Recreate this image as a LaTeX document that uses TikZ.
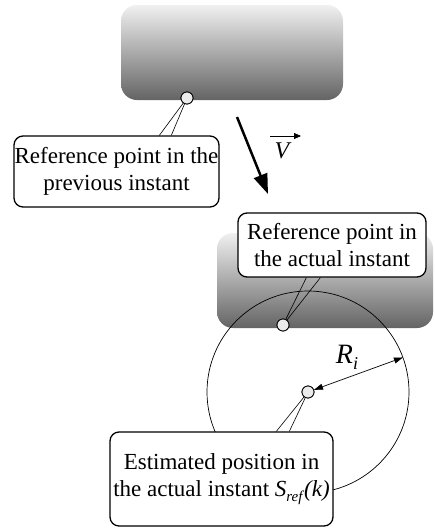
\documentclass[tikz,border=0pt]{standalone}
\usepackage{fontspec}
\setmainfont{Liberation Serif}
\usetikzlibrary{arrows.meta,calc}
\definecolor{shadetop}{RGB}{240,240,240}
\definecolor{shadebot}{RGB}{100,100,100}
\definecolor{ptfill}{RGB}{235,235,235}
\tikzset{
  car/.style={draw=none, rounded corners=16pt, top color=shadetop, bottom color=shadebot, inner sep=0pt},
  callout/.style={draw=black, line width=1.3pt, fill=white, rounded corners=9pt, inner sep=0pt, align=center, font=\fontsize{23}{27}\selectfont},
  refpt/.style={circle, draw=black, line width=0.8pt, fill=ptfill, minimum size=12pt, inner sep=0pt},
  pointer/.style={line width=0.6pt},
}
\begin{document}
\begin{tikzpicture}[x=1pt,y=-1pt]
\useasboundingbox (0,0) rectangle (435,528);
% gray blocks
\node[car, minimum width=222pt, minimum height=95pt] (car1) at (232,52.5) {};
\node[car, minimum width=216pt, minimum height=95pt] (car2) at (325,280.5) {};
% reference points (placed now, drawn again on top later)
\node[refpt] (p1) at (187,98) {};
\node[refpt] (p2) at (283,325) {};
\node[refpt] (p3) at (308,392) {};
% big circle
\draw[line width=0.7pt] (p3.center) circle[radius=101];
% callouts
\node[callout, minimum width=205pt, minimum height=71pt] (c1) at (116.5,171.5)
  {Reference point in the\\previous instant};
\node[callout, minimum width=188pt, minimum height=64pt] (c2) at (332,245)
  {Reference point in\\the actual instant};
\node[callout, minimum width=223pt, minimum height=94pt] (c3) at (221.5,479)
  {Estimated position in\\the actual instant \textit{S}\raisebox{-5pt}{\fontsize{15}{15}\selectfont\textit{ref}}\textit{(k)}};
% pointer coordinates
\coordinate (c1a) at ($(c1.north west)+(146,0)$);
\coordinate (c1b) at ($(c1.north west)+(158,0)$);
\coordinate (c2a) at ($(c2.south west)+(69,0)$);
\coordinate (c2b) at ($(c2.south west)+(83,0)$);
\coordinate (c3a) at ($(c3.north west)+(167,0)$);
\coordinate (c3b) at ($(c3.north west)+(180,0)$);
\draw[pointer] (c1a) -- (p1.center) -- (c1b);
\draw[pointer] (c2a) -- (p2.center) -- (c2b);
\draw[pointer] (c3a) -- (p3.center) -- (c3b);
% redraw points on top
\node[refpt] at (p1) {};
\node[refpt] at (p2) {};
\node[refpt] at (p3) {};
% velocity arrow
\coordinate (va) at (237,117);
\coordinate (vb) at (268,194);
\draw[line width=2.5pt, -{Triangle[length=20pt,width=14pt]}] (va) -- (vb);
\node[inner sep=0pt, font=\fontsize{24}{24}\selectfont\itshape] (V) at (282,151) {V};
\coordinate (vl) at (270,136);
\coordinate (vr) at (301,136);
\draw[line width=0.8pt, -{Triangle[length=7pt,width=6pt]}] (vl) -- (vr);
% radius
\coordinate (redge) at ($(p3.center)+(-20:101)$);
\draw[line width=0.7pt, {Triangle[length=9pt,width=6pt]}-{Triangle[length=9pt,width=6pt]}] (p3) -- (redge);
\node[inner sep=0pt, font=\fontsize{28}{28}\selectfont\itshape] (Ri) at (347,357) {R\raisebox{-6pt}{\fontsize{18}{18}\selectfont i}};
\end{tikzpicture}
\end{document}
